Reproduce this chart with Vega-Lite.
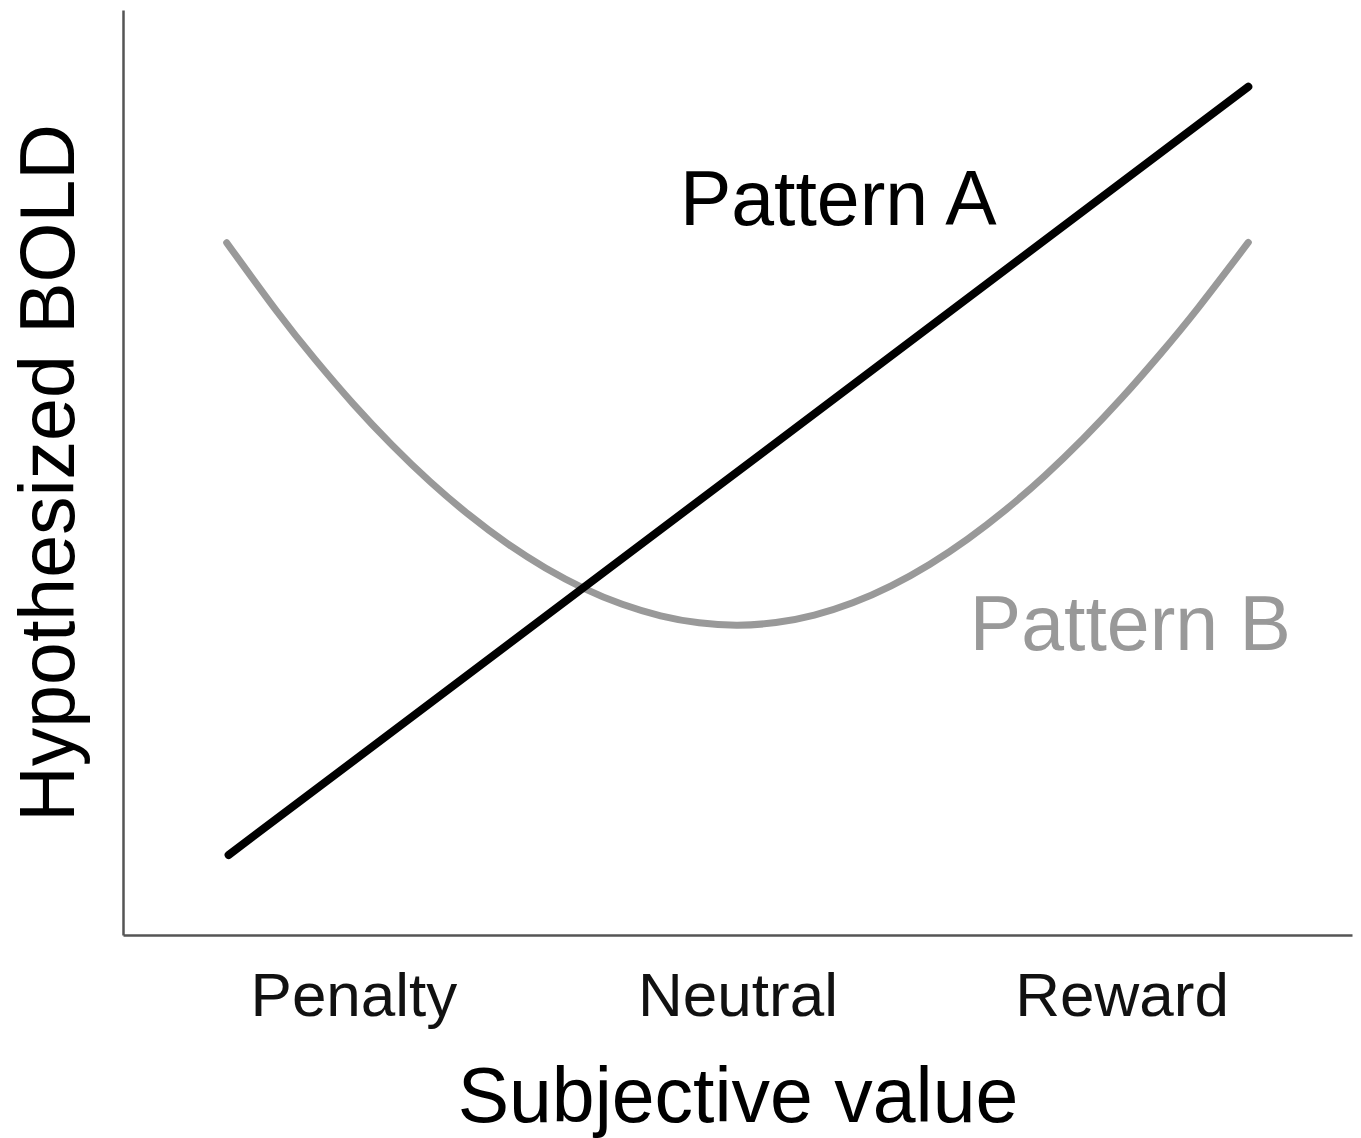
{
  "$schema": "https://vega.github.io/schema/vega-lite/v6.json",
  "autosize": {"type": "none"},
  "padding": {"left": 123, "top": 10, "right": 9, "bottom": 203},
  "width": 1229,
  "height": 925,
  "background": "white",
  "config": {
    "view": {"stroke": null},
    "font": "Liberation Sans",
    "axis": {"grid": false, "ticks": false, "domainColor": "#555555", "domainWidth": 2.5, "labelFont": "Liberation Sans", "titleFont": "Liberation Sans", "titleFontWeight": "normal", "labelColor": "#111111", "titleColor": "#000000", "labelLimit": 0}
  },
  "datasets": {
    "lines": [
      {"series": "A", "x": -1.325, "y": 8.65},
      {"series": "A", "x": 1.33, "y": 91.7},
      {"series": "B", "x": -1.33, "y": 74.84},
      {"series": "B", "x": -1.2, "y": 67.46},
      {"series": "B", "x": -1.1, "y": 62.23},
      {"series": "B", "x": -1.0, "y": 57.4},
      {"series": "B", "x": -0.9, "y": 52.99},
      {"series": "B", "x": -0.8, "y": 49.0},
      {"series": "B", "x": -0.7, "y": 45.45},
      {"series": "B", "x": -0.6, "y": 42.33},
      {"series": "B", "x": -0.5, "y": 39.68},
      {"series": "B", "x": -0.4, "y": 37.48},
      {"series": "B", "x": -0.3, "y": 35.75},
      {"series": "B", "x": -0.2, "y": 34.51},
      {"series": "B", "x": -0.1, "y": 33.75},
      {"series": "B", "x": 0.0, "y": 33.5},
      {"series": "B", "x": 0.1, "y": 33.78},
      {"series": "B", "x": 0.2, "y": 34.59},
      {"series": "B", "x": 0.3, "y": 35.92},
      {"series": "B", "x": 0.4, "y": 37.75},
      {"series": "B", "x": 0.5, "y": 40.06},
      {"series": "B", "x": 0.6, "y": 42.83},
      {"series": "B", "x": 0.7, "y": 46.03},
      {"series": "B", "x": 0.8, "y": 49.64},
      {"series": "B", "x": 0.9, "y": 53.65},
      {"series": "B", "x": 1.0, "y": 58.03},
      {"series": "B", "x": 1.1, "y": 62.77},
      {"series": "B", "x": 1.2, "y": 67.83},
      {"series": "B", "x": 1.33, "y": 74.87}
    ],
    "labels": [
      {"series": "A", "label": "Pattern A", "x": -0.15, "y": 76.8},
      {"series": "B", "label": "Pattern B", "x": 0.605, "y": 30.8}
    ]
  },
  "layer": [
    {
      "data": {"name": "lines"},
      "transform": [{"filter": "datum.series === 'B'"}],
      "mark": {"type": "line", "interpolate": "natural", "strokeWidth": 7, "strokeCap": "round", "color": "#999999"},
      "encoding": {
        "x": {"field": "x", "type": "quantitative", "scale": {"domain": [-1.6, 1.6], "nice": false, "zero": false},
          "axis": {"values": [-1, 0, 1], "labelExpr": "datum.value === -1 ? 'Penalty' : datum.value === 0 ? 'Neutral' : 'Reward'", "labelFontSize": 62, "labelPadding": 31, "title": "Subjective value", "titleFontSize": 77, "titlePadding": 33}},
        "y": {"field": "y", "type": "quantitative", "scale": {"domain": [0, 100], "nice": false},
          "axis": {"labels": false, "title": "Hypothesized BOLD", "titleFontSize": 77, "titlePadding": 34}}
      }
    },
    {
      "data": {"name": "lines"},
      "transform": [{"filter": "datum.series === 'A'"}],
      "mark": {"type": "line", "strokeWidth": 8, "strokeCap": "round", "color": "#000000"},
      "encoding": {
        "x": {"field": "x", "type": "quantitative"},
        "y": {"field": "y", "type": "quantitative"}
      }
    },
    {
      "data": {"name": "labels"},
      "mark": {"type": "text", "align": "left", "baseline": "alphabetic", "fontSize": 77, "font": "Liberation Sans"},
      "encoding": {
        "x": {"field": "x", "type": "quantitative"},
        "y": {"field": "y", "type": "quantitative"},
        "text": {"field": "label"},
        "color": {"field": "series", "type": "nominal", "scale": {"domain": ["A", "B"], "range": ["#000000", "#999999"]}, "legend": null}
      }
    }
  ]
}
